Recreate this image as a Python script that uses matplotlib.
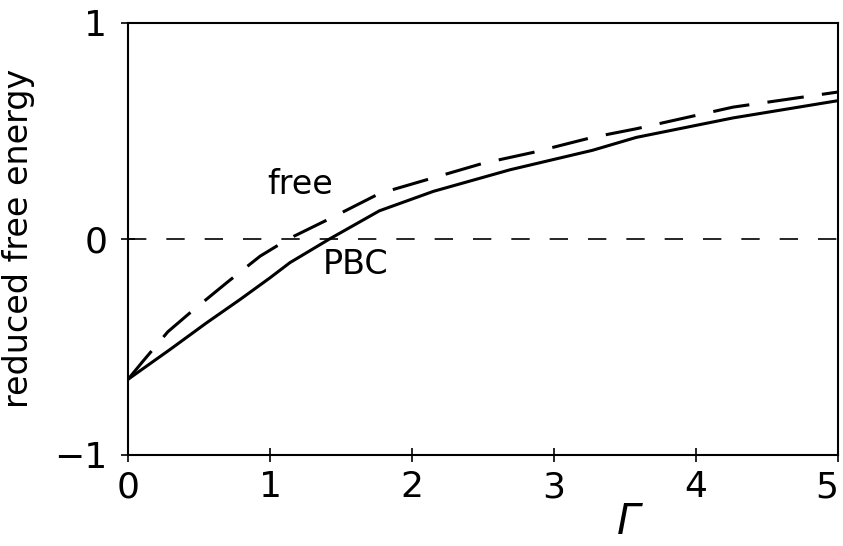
import matplotlib.pyplot as plt

# values
gamma_pbc = [0.0, 0.30, 0.55, 0.79, 1.00, 1.14, 1.42, 1.77, 2.15, 2.69, 3.27, 3.58, 4.26, 5.0]
energy_pbc = [-0.65, -0.51, -0.39, -0.28, -0.18, -0.11, 0.0, 0.13, 0.22, 0.32, 0.41, 0.47, 0.56, 0.64]

gamma_free = [0.0, 0.10, 0.28, 0.44, 0.70, 0.93, 1.13, 1.44, 1.77, 2.50, 2.85, 3.27, 3.58, 4.26, 5.0]
energy_free = [-0.65, -0.57, -0.43, -0.34, -0.20, -0.08, 0.0, 0.10, 0.21, 0.35, 0.40, 0.47, 0.51, 0.61, 0.68]

xticks = [0, 1, 2, 3, 4, 5]
yticks = [-1, 0, 1]

plt.rcParams['font.family'] = ['DejaVu Sans']

fig = plt.figure(figsize=(8.43, 5.46), dpi=100)
ax = fig.add_axes([0.152, 0.167, 0.842, 0.791])

ax.axhline(0, color='black', lw=1.2, dashes=(11, 12))
ax.plot(gamma_pbc, energy_pbc, color='black', lw=2.2)
ax.plot(gamma_free, energy_free, color='black', lw=2.2, dashes=(12, 6))

ax.text(1.21, 0.25, 'free', fontsize=24, ha='center', va='center')
ax.text(1.6, -0.12, 'PBC', fontsize=24, ha='center', va='center')

ax.set_xlim(0, 5)
ax.set_ylim(-1, 1)
ax.set_xticks(xticks)
ax.set_yticks(yticks)
ax.set_yticklabels(['\u22121', '0', '1'])
ax.tick_params(direction='inout', length=10, width=1.2, labelsize=26)
ax.tick_params(axis='y', pad=10)
ax.tick_params(axis='x', pad=6)
ax.get_xticklabels()[-1].set_horizontalalignment('right')
for s in ax.spines.values():
    s.set_linewidth(1.5)

ax.set_ylabel('reduced free energy', fontsize=24, labelpad=14)
fig.text(628 / 843, 3 / 546, '\u0393', fontsize=30, style='italic',
         ha='center', va='bottom')

fig.savefig('out.png', dpi=100)
